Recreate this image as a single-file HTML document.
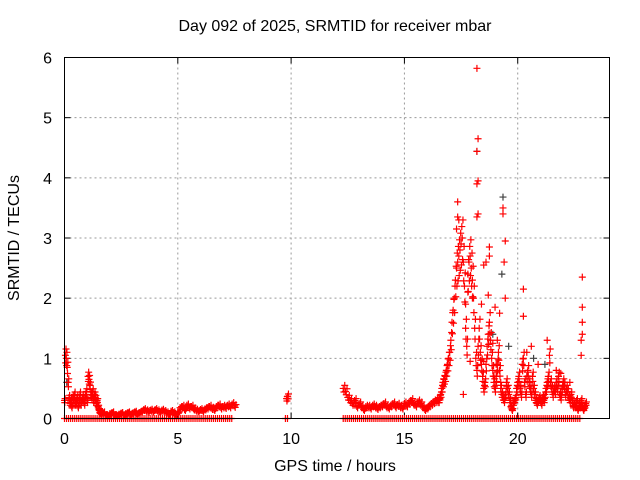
<!DOCTYPE html>
<html><head><meta charset="utf-8"><style>
html,body{margin:0;padding:0;background:#fff;}
svg{display:block;font-family:"Liberation Sans",sans-serif;}
</style></head><body>
<svg id="chart" width="640" height="480" viewBox="0 0 640 480">
<rect width="640" height="480" fill="#fff"/>
<text x="335" y="31" font-size="16" text-anchor="middle" fill="#000">Day 092 of 2025, SRMTID for receiver mbar</text>
<text x="335" y="471" font-size="16" text-anchor="middle" fill="#000">GPS time / hours</text>
<text transform="translate(19,238) rotate(-90)" font-size="16" text-anchor="middle" fill="#000">SRMTID / TECUs</text>
<g id="grid"></g>
<g id="ticks"></g>
<g id="plot"></g>
<rect x="64.5" y="57.5" width="545" height="361" fill="none" stroke="#000" stroke-width="1"/>
</svg>
<script>
const xTicks=[0,5,10,15,20];
const yTicks=[0,1,2,3,4,5,6];
const segA_start=0, segA_step=0.04;
const segA=[0.3,1.05,1.0,0.85,0.6,0.35,0.25,0.3,0.2,0.35,0.3,0.4,0.25,0.3,0.35,0.2,0.3,0.4,0.25,0.3,0.35,0.3,0.25,0.4,0.45,0.3,0.7,0.65,0.55,0.4,0.35,0.45,0.3,0.4,0.35,0.25,0.3,0.2,0.15,0.1,0.1];
const segB_start=1.6, segB_step=0.1;
const segB=[0.08,0.1,0.06,0.05,0.08,0.1,0.06,0.05,0.07,0.09,0.06,0.08,0.1,0.07,0.09,0.11,0.08,0.1,0.12,0.15,0.13,0.12,0.14,0.12,0.15,0.13,0.11,0.14,0.12,0.1,0.08,0.12,0.1,0.07,0.1,0.18,0.2,0.15,0.22,0.18,0.2,0.16,0.14,0.12,0.15,0.13,0.16,0.18,0.2,0.17,0.15,0.2,0.22,0.18,0.2,0.19,0.22,0.2,0.24,0.21];
const segC_start=9.8, segC_step=0.05;
const segC=[0.33,0.37];
const segD_start=12.3, segD_step=0.1;
const segD=[0.5,0.45,0.35,0.3,0.25,0.3,0.2,0.25,0.2,0.15,0.2,0.2,0.18,0.22,0.2,0.17,0.2,0.22,0.25,0.2,0.18,0.22,0.25,0.2,0.23,0.2,0.18,0.25,0.22,0.27,0.3,0.25,0.22,0.28,0.25,0.2,0.15,0.18,0.22,0.25,0.28,0.3,0.3];
const segE_start=16.5, segE_step=0.05;
const segE=[0.3,0.35,0.4,0.5,0.6,0.65,0.7,0.8,0.9,1.0,
1.1,1.3,1.6,1.8,2.0,2.3,2.5,2.6,2.7,2.8,
2.9,3.0,2.6,2.2,1.5,1.2,2.4,2.6,2.7,2.5,
2.3,2.0,1.5,1.0,0.8,1.2,1.5,1.1,0.9,0.7,
0.5,0.6,0.9,1.2,1.4,1.6,1.3,1.0,0.8,0.6,
0.5,0.7,0.9,1.1,0.8,0.5,0.4,0.35,0.3,0.4,
0.6,0.5,0.4,0.3,0.2,0.15,0.25,0.3,0.35,0.5,
0.6,0.7,0.5,0.4,0.9,1.0,0.6,0.4,0.7,0.8,
0.6,0.5,0.4,0.7,0.5,0.4,0.3,0.25,0.3,0.35,
0.3,0.25,0.35,0.3,0.4,0.5,0.6,0.7,1.05,0.6,
0.5,0.4,0.5,0.45,0.6,0.5,0.7,0.4,0.35,0.5,
0.6,0.55,0.4,0.5,0.45,0.35,0.3,0.4,0.3,0.2,
0.25,0.2,0.3,0.15,0.25,0.2,0.3,0.2,0.15,0.2,0.25];
const outT=[18.2,18.25,18.2,18.2,18.25,17.35,17.35,17.4,17.3,18.2,18.25,19.35,19.35,19.45,19.4,19.45,19.2,20.25,20.25,22.85,22.85,22.85,22.85,22.8,22.8,18.5,18.6,18.75,18.75,19.0,18.5,17.9,17.6,18.7,18.9,17.7,17.8,18.0,18.4,19.1,20.6,21.3,21.7,18.95,19.05,19.25,20.4,20.9,21.9,22.3];
const outV=[5.82,4.65,4.44,3.9,3.95,3.6,3.35,3.3,3.15,3.35,3.4,3.5,3.4,2.95,2.6,2.0,1.75,2.15,1.7,2.35,1.85,1.6,1.4,1.3,1.05,2.55,2.6,2.85,2.7,1.85,0.95,0.95,0.4,2.05,1.25,1.9,2.1,2.0,1.9,1.3,1.2,1.3,0.8,0.7,0.9,0.6,1.1,0.9,0.75,0.6];
const greyT=[18.2,19.35,19.3,20.7,0.1,18.9,19.6,21.2];
const greyV=[4.44,3.68,2.4,1.0,0.6,1.4,1.2,0.9];
const zeroSegStart=[0,9.75,12.3];
const zeroSegEnd=[7.4,9.9,22.8];
const zeroStep=0.09;

const L=64.5,R=609.5,T=57.5,B=418.5;
const xMin=0,xMax=24.05,yMin=0,yMax=6;
const sx=v=>L+(v-xMin)/(xMax-xMin)*(R-L);
const sy=v=>B-(v-yMin)/(yMax-yMin)*(B-T);
const NS='http://www.w3.org/2000/svg';
const grid=document.getElementById('grid'),ticks=document.getElementById('ticks'),plot=document.getElementById('plot');
function mk(tag,attrs,parent){const e=document.createElementNS(NS,tag);for(const k in attrs)e.setAttribute(k,attrs[k]);parent.appendChild(e);return e;}
xTicks.forEach(t=>{const x=sx(t);
 if(t>0){const g=mk('line',{x1:x,x2:x,y1:T,y2:B,stroke:'#999','stroke-dasharray':'2,3'},grid);
 
 }
 const a=mk('line',{x1:x,x2:x,y1:B,y2:B-6,stroke:'#000'},ticks);
 
 
 const b=mk('line',{x1:x,x2:x,y1:T,y2:T+6,stroke:'#000'},ticks);
 
 
 const l=mk('text',{x:x,y:444,'font-size':16,'text-anchor':'middle',fill:'#000'},ticks);l.textContent=t;
 
 
});
yTicks.forEach(t=>{const y=sy(t);
 if(t>0&&t<6){const g=mk('line',{x1:L,x2:R,y1:y,y2:y,stroke:'#999','stroke-dasharray':'2,3'},grid);
 
 }
 const a=mk('line',{x1:L,x2:L+6,y1:y,y2:y,stroke:'#000'},ticks);
 
 
 const b=mk('line',{x1:R,x2:R-6,y1:y,y2:y,stroke:'#000'},ticks);
 
 
 const l=mk('text',{x:52,y:y+6,'font-size':16,'text-anchor':'end',fill:'#000'},ticks);l.textContent=t;
 
 
});
function cross(t,v,col,name){const x=sx(t),y=sy(v);
 const p=mk('path',{d:`M${x-3.5},${y}h7M${x},${y-3.5}v7`,stroke:col,'stroke-width':1.2,fill:'none'},plot);
 
 }
greyT.forEach((t,i)=>cross(t,greyV[i],'#404040','grey-point'));
[[segA_start,segA_step,segA],[segB_start,segB_step,segB],[segC_start,segC_step,segC],[segD_start,segD_step,segD],[segE_start,segE_step,segE]].forEach(s=>{
 s[2].forEach((v,i)=>{const t=s[0]+i*s[1];
  cross(t,v,'#ff0000','srmtid-point');
  cross(t+s[1]/3,v*0.88,'#ff0000','srmtid-point');
  cross(t+2*s[1]/3,v*1.1,'#ff0000','srmtid-point');});
});
outT.forEach((t,i)=>cross(t,outV[i],'#ff0000','srmtid-outlier'));
zeroSegStart.forEach((s,k)=>{for(let t=s;t<=zeroSegEnd[k];t+=zeroStep)cross(t,0,'#ff0000','zero-point');});
</script>
</body></html>
